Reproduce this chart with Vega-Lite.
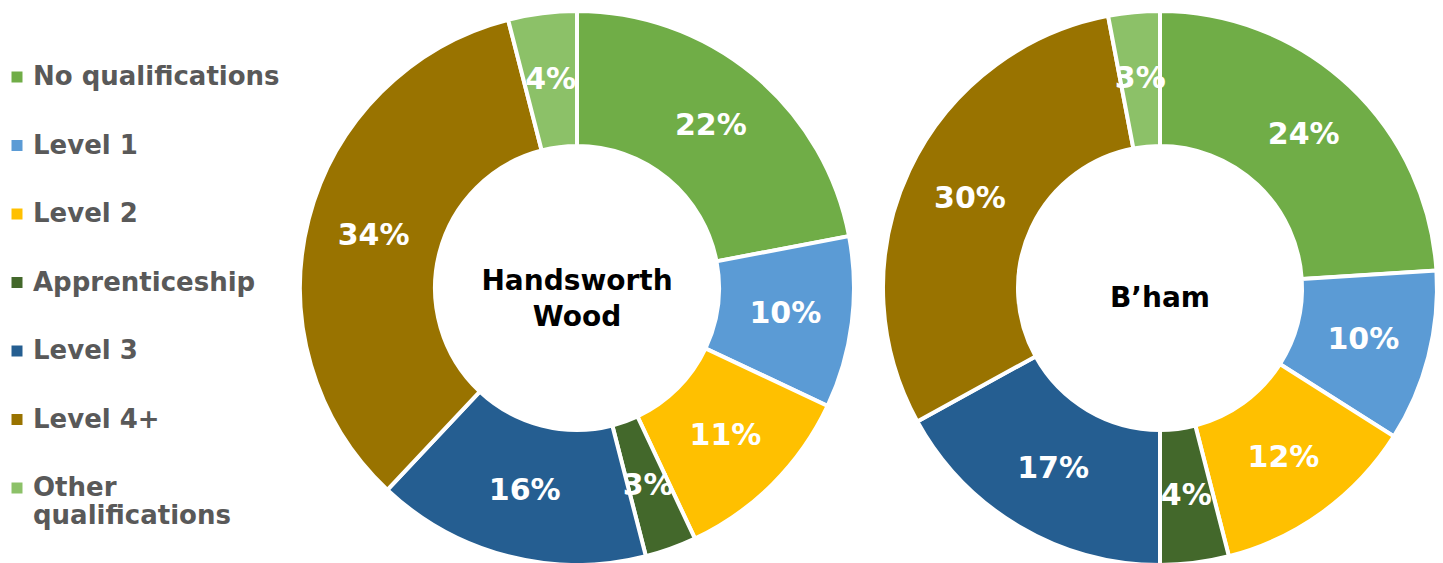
{
  "$schema": "https://vega.github.io/schema/vega-lite/v6.json",
  "padding": {"left": 4, "top": 0, "right": 0, "bottom": 0},
  "background": "white",
  "data": {
    "values": [
      {"area": "Handsworth Wood", "category": "No qualifications", "order": 1, "value": 0.22},
      {"area": "Handsworth Wood", "category": "Level 1", "order": 2, "value": 0.10},
      {"area": "Handsworth Wood", "category": "Level 2", "order": 3, "value": 0.11},
      {"area": "Handsworth Wood", "category": "Apprenticeship", "order": 4, "value": 0.03},
      {"area": "Handsworth Wood", "category": "Level 3", "order": 5, "value": 0.16},
      {"area": "Handsworth Wood", "category": "Level 4+", "order": 6, "value": 0.34},
      {"area": "Handsworth Wood", "category": "Other qualifications", "order": 7, "value": 0.04},
      {"area": "B’ham", "category": "No qualifications", "order": 1, "value": 0.24},
      {"area": "B’ham", "category": "Level 1", "order": 2, "value": 0.10},
      {"area": "B’ham", "category": "Level 2", "order": 3, "value": 0.12},
      {"area": "B’ham", "category": "Apprenticeship", "order": 4, "value": 0.04},
      {"area": "B’ham", "category": "Level 3", "order": 5, "value": 0.17},
      {"area": "B’ham", "category": "Level 4+", "order": 6, "value": 0.30},
      {"area": "B’ham", "category": "Other qualifications", "order": 7, "value": 0.03}
    ]
  },
  "facet": {
    "column": {"field": "area", "type": "nominal", "sort": ["Handsworth Wood", "B’ham"], "header": null}
  },
  "spacing": 13,
  "spec": {
    "width": 560,
    "height": 576,
    "layer": [
      {
        "mark": {"type": "arc", "radius": 277, "radius2": 142, "stroke": "white", "strokeWidth": 4},
        "encoding": {
          "theta": {"field": "value", "type": "quantitative", "stack": true, "scale": {"domain": [0, 1]}},
          "order": {"field": "order", "type": "quantitative"},
          "color": {
            "field": "category",
            "type": "nominal",
            "scale": {
              "domain": ["No qualifications", "Level 1", "Level 2", "Apprenticeship", "Level 3", "Level 4+", "Other qualifications"],
              "range": ["#70AD47", "#5B9BD5", "#FFC000", "#43682B", "#255E91", "#997300", "#8CC168"]
            },
            "legend": {
              "orient": "none",
              "legendX": -293,
              "legendY": 64,
              "title": null,
              "padding": 0,
              "symbolType": "square",
              "symbolSize": 121,
              "symbolStrokeWidth": 0,
              "labelFont": "DejaVu Sans",
              "labelFontWeight": "bold",
              "labelFontSize": 26,
              "labelColor": "#595959",
              "labelOffset": 3,
              "labelLimit": 400,
              "rowPadding": 42.5,
              "labelExpr": "datum.label == 'Other qualifications' ? ['Other', 'qualifications'] : datum.label",
              "encode": {"labels": {"update": {"lineHeight": {"value": 35}}}}
            }
          }
        }
      },
      {
        "mark": {"type": "text", "radius": 210, "font": "DejaVu Sans", "fontWeight": "bold", "fontSize": 30, "color": "white", "baseline": "middle", "align": "center"},
        "encoding": {
          "theta": {"field": "value", "type": "quantitative", "stack": true, "scale": {"domain": [0, 1]}},
          "order": {"field": "order", "type": "quantitative"},
          "text": {"field": "value", "type": "quantitative", "format": ".0%"}
        }
      },
      {
        "transform": [{"filter": "datum.order == 1 && datum.area == 'Handsworth Wood'"}],
        "mark": {"type": "text", "lineBreak": " ", "font": "DejaVu Sans", "fontWeight": "bold", "fontSize": 28, "color": "black", "baseline": "middle", "align": "center", "lineHeight": 36, "dy": -6},
        "encoding": {
          "text": {"field": "area", "type": "nominal"}
        }
      },
      {
        "transform": [{"filter": "datum.order == 1 && datum.area != 'Handsworth Wood'"}],
        "mark": {"type": "text", "font": "DejaVu Sans", "fontWeight": "bold", "fontSize": 28, "color": "black", "baseline": "middle", "align": "center", "dy": 11},
        "encoding": {
          "text": {"field": "area", "type": "nominal"}
        }
      }
    ]
  },
  "config": {
    "view": {"stroke": null}
  }
}
